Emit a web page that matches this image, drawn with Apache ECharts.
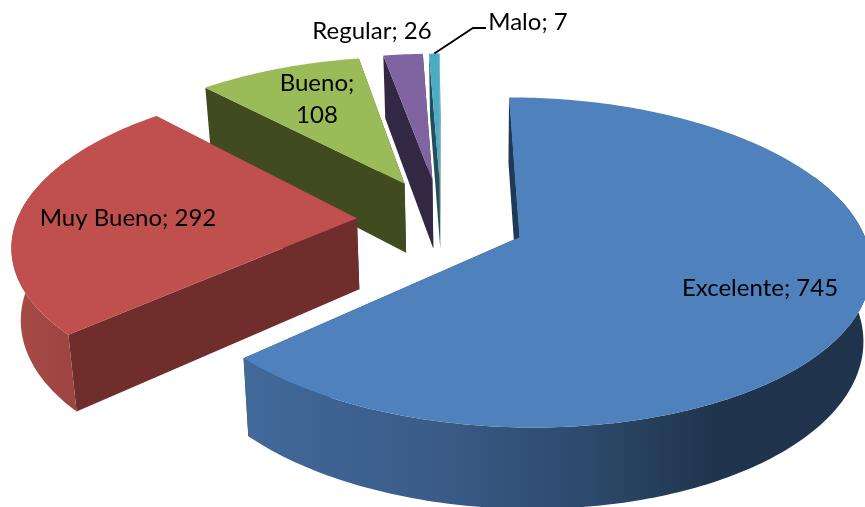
<!DOCTYPE html>
<html>
<head>
<meta charset="utf-8">
<style>html,body{margin:0;padding:0;background:#fff;overflow:hidden}#c{width:865px;height:507px}</style>
<script src="https://cdn.jsdelivr.net/npm/echarts@6/dist/echarts.min.js"></script>
</head>
<body>
<div id="c"></div>
<script>
// ---- data ----
var categories = ['Excelente', 'Muy Bueno', 'Bueno', 'Regular', 'Malo'];
var counts = [745, 292, 108, 26, 7];

// ---- colours ----
var topColors = ['#4f81bd', '#c0504d', '#9bbb59', '#8064a2', '#4bacc6'];
var radialWallColors = ['#1f3a58', '#6f2d2b', '#404b20', '#322843', '#21505c'];
var rimStops = [
  [[0, '#41699a'], [0.3, '#3a5c88'], [0.55, '#2d496c'], [0.75, '#20344d'], [1, '#1f334c']],
  [[0, '#a84c47'], [1, '#9c4440']],
  [[0, '#5f7a2f'], [1, '#5f7a2f']],
  [[0, '#4a3a66'], [1, '#4a3a66']],
  [[0, '#2b7a8e'], [1, '#2b7a8e']]
];

// ---- projection of the 3D pie (perspective from above) ----
var view = {cx: 441, cy: 220, rx: 340, ry: 156, k: 0.15, explodeX: 0.248, explodeY: 0.27,
            vanishX: 480, shrink: 0.98, depth0: 60, depthSlope: 0.05};

// ---- label placement (text centres, px) ----
var labelLayout = [
  {lines: 1, x: 760, y: 288},
  {lines: 1, x: 128, y: 218},
  {lines: 2, x: 317, y: 99},
  {lines: 1, x: 372, y: 31},
  {lines: 1, x: 528, y: 22}
];
var leaderElbow = [[473, 28], [486, 28]];
var FONT = 'Lato, "Open Sans", sans-serif';
var FONT_SIZE = 24;

var total = counts.reduce(function (a, b) { return a + b; }, 0);
var startAngles = [], acc = 0;
counts.forEach(function (v) { startAngles.push(acc); acc += v / total * Math.PI * 2; });

function project(X, Y) {
  var d = 1 - view.k * Y;
  return [view.cx + view.rx * X / d, view.cy + view.ry * Y / d];
}
function lower(p) {
  return [view.vanishX + (p[0] - view.vanishX) * view.shrink,
          p[1] + view.depth0 + view.depthSlope * p[1]];
}

function renderItem(params, api) {
  var i = params.dataIndex;
  var value = api.value(0);
  var a0 = startAngles[i], a1 = a0 + value / total * Math.PI * 2, mid = (a0 + a1) / 2;
  var ox = Math.sin(mid) * view.explodeX, oy = -Math.cos(mid) * view.explodeY;
  var rimAt = function (a) { return project(ox + Math.sin(a), oy - Math.cos(a)); };
  var apex = project(ox, oy);
  var steps = Math.max(6, Math.ceil((a1 - a0) * 60));
  var rim = [], front = [];
  for (var s = 0; s <= steps; s++) {
    var a = a0 + (a1 - a0) * s / steps;
    var p = rimAt(a);
    rim.push(p);
    if (-Math.cos(a) >= -0.4) front.push(p);
  }
  var z = (categories.length - i) * 10;
  var kids = [];
  function poly(pts, fill, dz) {
    kids.push({type: 'polygon', z2: z + dz, shape: {points: pts},
      style: {fill: fill, stroke: null}, silent: true});
  }
  var first = rim[0], last = rim[rim.length - 1];
  poly([last, apex, lower(apex), lower(last)], radialWallColors[i], 0);
  poly([first, apex, lower(apex), lower(first)], radialWallColors[i], 1);
  if (front.length > 1) {
    var lowerFront = front.map(lower).reverse();
    poly(front.concat(lowerFront), {
      type: 'linear', x: 0, y: 0, x2: 1, y2: 0,
      colorStops: rimStops[i].map(function (st) { return {offset: st[0], color: st[1]}; })
    }, 2);
  }
  poly([apex].concat(rim), topColors[i], 3);
  if (value === Math.max.apply(null, counts)) {
    poly([first, apex, [apex[0] - 5, apex[1] + 2]], radialWallColors[i], 4);
  }
  var L = labelLayout[i];
  var sep = L.lines === 2 ? '\n' : ' ';
  kids.push({type: 'text', z2: 100, silent: true, x: L.x, y: L.y,
    style: {text: categories[i] + ';' + sep + value, fill: '#000', font: FONT_SIZE + 'px ' + FONT,
            align: 'center', verticalAlign: 'middle', lineHeight: 32}});
  if (i === categories.length - 1) {
    var from = rimAt(mid);
    kids.push({type: 'polyline', z2: 100, silent: true,
      shape: {points: [from].concat(leaderElbow)},
      style: {stroke: '#000', lineWidth: 1.8, fill: null}});
  }
  return {type: 'group', children: kids};
}

var chart = echarts.init(document.getElementById('c'), null, {renderer: 'canvas'});
chart.setOption({
  backgroundColor: '#fff',
  animation: false,
  tooltip: {show: false},
  series: [{
    type: 'custom',
    coordinateSystem: 'none',
    renderItem: renderItem,
    data: counts.map(function (v, i) { return {name: categories[i], value: [v]}; }),
    encode: {value: 0}
  }]
});
</script>
</body>
</html>
